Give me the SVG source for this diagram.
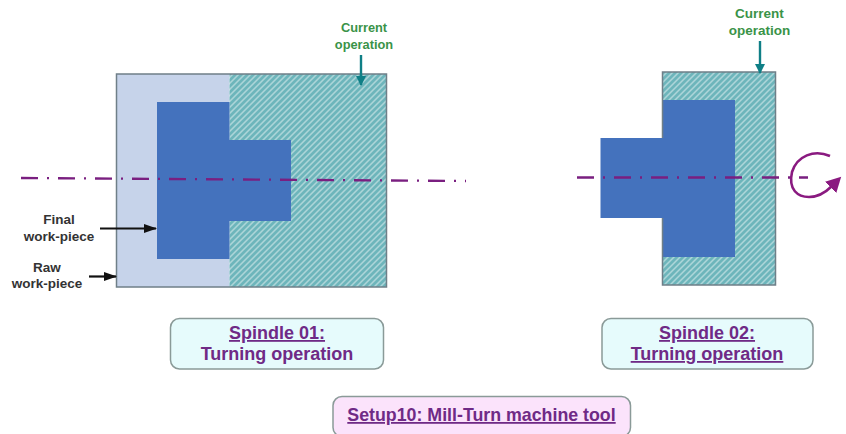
<svg xmlns="http://www.w3.org/2000/svg" width="846" height="434" viewBox="0 0 846 434">
<style>
text{font-family:"Liberation Sans",Arial,sans-serif;font-weight:bold;text-anchor:middle}
.g{font-size:12.800px;fill:#3a9348}
.g2{font-size:13.500px;fill:#3a9348}
.k{font-size:13.500px;fill:#333}
.p{font-size:18px;fill:#6f2a86}
.u{text-decoration:underline}
.raw{fill:#c6d3ea}
.fin{fill:#4472bd}
.hat{fill:url(#h)}
.edge{fill:none;stroke:#6f7f88;stroke-width:1.500}
.box{stroke:#8a9a98;stroke-width:1.500}
.axis{fill:none;stroke:#7a1f80;stroke-width:2.300;stroke-dasharray:17 9 2 9}
</style>
<defs>
<pattern id="h" width="4.243" height="4.243" patternUnits="userSpaceOnUse" patternTransform="rotate(45)">
<rect width="4.243" height="4.243" fill="#6db5bb"/>
<rect width="1.400" height="4.243" fill="#b4d9dc"/>
</pattern>
<marker id="at" markerWidth="10" markerHeight="12" refX="9" refY="5" orient="auto" markerUnits="userSpaceOnUse"><path d="M0 0L10 5L0 10z" fill="#0f7f86"/></marker>
<marker id="ak" markerWidth="13" markerHeight="10" refX="12" refY="4.500" orient="auto" markerUnits="userSpaceOnUse"><path d="M0 0L13 4.500L0 9z" fill="#111"/></marker>
<marker id="ap" markerWidth="16" markerHeight="16" refX="2" refY="8" orient="auto" markerUnits="userSpaceOnUse"><path d="M0 0L15 8L0 16z" fill="#8a1a80"/></marker>
</defs>

<g id="workpiece-spindle-01">
<rect class="raw" x="116.500" y="74" width="113" height="213"/>
<rect class="hat" x="229.500" y="74" width="157" height="213"/>
<path class="fin" d="M157 102H229.500V140H291V221H229.500V259H157z"/>
<rect class="edge" x="116.500" y="74" width="270" height="213"/>
</g>
<g id="workpiece-spindle-02">
<rect class="hat" x="662.500" y="72" width="113" height="213"/>
<path class="fin" d="M663 100H735V257H663V218H600.500V138H663z"/>
<path class="edge" d="M662.500 138V72H775.500V285H662.500V218"/>
</g>

<g id="connectors">
<path class="axis" d="M21 178L466 181"/>
<path class="axis" d="M577 177.500H808"/>
<path d="M361 55V85" fill="none" stroke="#0f7f86" stroke-width="2.400" marker-end="url(#at)"/>
<path d="M760 41V73" fill="none" stroke="#0f7f86" stroke-width="2.400" marker-end="url(#at)"/>
<path d="M100 228.500H156" fill="none" stroke="#111" stroke-width="2.200" marker-end="url(#ak)"/>
<path d="M89 276.500H116" fill="none" stroke="#111" stroke-width="2.200" marker-end="url(#ak)"/>
<path d="M830 156C814 149 797 156 792 172C788 190 798 197 809 197C818 197 825 193 832 186" fill="none" stroke="#8a1a80" stroke-width="2.600" marker-end="url(#ap)"/>
</g>

<g id="label-current-1"><text class="g" x="364" y="32">Current</text><text class="g" x="364" y="49">operation</text></g>
<g id="label-current-2"><text class="g2" x="759.500" y="18">Current</text><text class="g2" x="759.500" y="35">operation</text></g>
<g id="label-final"><text class="k" x="59" y="224">Final</text><text class="k" x="59" y="241">work-piece</text></g>
<g id="label-raw"><text class="k" x="47" y="272">Raw</text><text class="k" x="47" y="288">work-piece</text></g>

<g id="spindle-01">
<rect class="box" x="170.500" y="318.500" width="213" height="50.500" rx="9" fill="#e6fbfc"/>
<text class="p u" x="277" y="339">Spindle 01:</text>
<text class="p" x="277" y="360">Turning operation</text>
</g>
<g id="spindle-02">
<rect class="box" x="602" y="318.500" width="211" height="50.500" rx="9" fill="#e6fbfc"/>
<text class="p u" x="707" y="339">Spindle 02:</text>
<text class="p u" x="707" y="360">Turning operation</text>
</g>
<g id="setup">
<rect class="box" x="333" y="396.500" width="297.500" height="40" rx="9" fill="#fbe3fb"/>
<text class="p u" x="481.500" y="421" style="font-size:17.800px">Setup10: Mill-Turn machine tool</text>
</g>
</svg>
